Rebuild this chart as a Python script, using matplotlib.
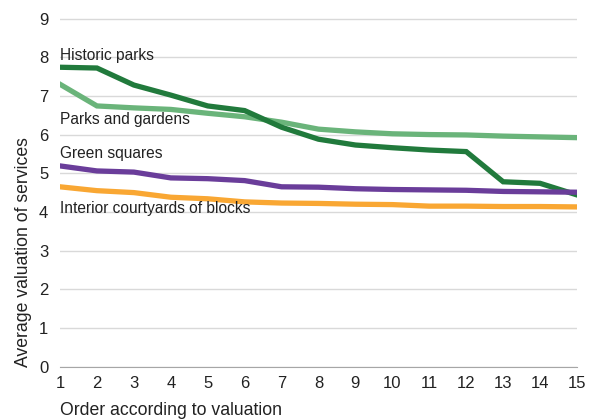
import numpy as np
import matplotlib.pyplot as plt

plt.rcParams['font.family'] = ['Liberation Sans', 'DejaVu Sans']

# Data
order = list(range(1, 16))
historic_parks = [7.74, 7.72, 7.28, 7.02, 6.74, 6.62, 6.19, 5.88, 5.73, 5.66, 5.60, 5.56, 4.78, 4.74, 4.44]
parks_gardens = [7.30, 6.74, 6.69, 6.65, 6.55, 6.46, 6.32, 6.14, 6.07, 6.02, 6.00, 5.99, 5.96, 5.94, 5.92]
green_squares = [5.19, 5.06, 5.03, 4.88, 4.86, 4.81, 4.65, 4.64, 4.60, 4.58, 4.57, 4.56, 4.53, 4.52, 4.51]
courtyards = [4.65, 4.55, 4.50, 4.38, 4.34, 4.26, 4.23, 4.22, 4.20, 4.19, 4.15, 4.15, 4.14, 4.14, 4.13]

series = [
    ('Historic parks', historic_parks, '#217a3c', 7.93),
    ('Parks and gardens', parks_gardens, '#6ab47a', 6.27),
    ('Green squares', green_squares, '#6a3d9a', 5.39),
    ('Interior courtyards of blocks', courtyards, '#f9a733', 3.97),
]

fig = plt.figure(figsize=(5.95, 4.19), dpi=100)
ax = fig.add_axes([60 / 595, 1 - 366.7 / 419, 517 / 595, 348.2 / 419])

# light green drawn under dark green
for name, vals, col, ty in [series[1], series[0], series[2], series[3]]:
    ax.plot(order, vals, color=col, lw=3.8, solid_joinstyle='miter', zorder=3)

for name, vals, col, ty in series:
    ax.text(1, ty, name, fontsize=11.2, va='baseline', ha='left', color='#222222', zorder=4)

ax.set_xlim(1, 15)
ax.set_ylim(0, 9)
ax.set_xticks(order)
ax.set_yticks(range(0, 10))
ax.grid(axis='y', color='#d9d9d9', lw=1)
ax.set_axisbelow(True)
for s in ['top', 'right', 'left']:
    ax.spines[s].set_visible(False)
ax.spines['bottom'].set_color('#a6a6a6')
ax.tick_params(length=0, labelsize=12, colors='#222222')
ax.tick_params(axis='y', pad=8.5)
ax.tick_params(axis='x', pad=7)
ax.set_xlabel('Order according to valuation', fontsize=12.7, color='#222222', labelpad=7.5, loc='left')
ax.set_ylabel('Average valuation of services', fontsize=12.7, color='#222222', labelpad=5, loc='bottom')

fig.savefig('out.png', dpi=100)
